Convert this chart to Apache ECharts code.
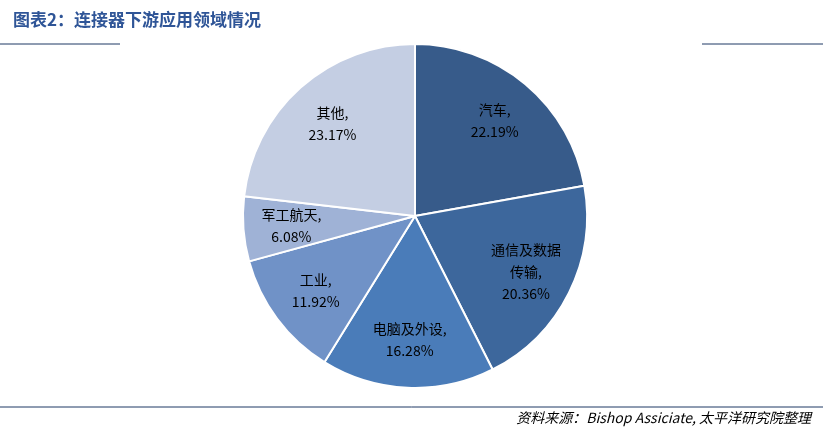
<!DOCTYPE html><html><head><meta charset="utf-8">
<script src="https://cdn.jsdelivr.net/npm/echarts@6/dist/echarts.min.js"></script>
<style>html,body{margin:0;padding:0;background:#fff}#c{width:823px;height:435px}</style></head>
<body><div id="c"></div><script>
const categories=['汽车','通信及数据\n传输','电脑及外设','工业','军工航天','其他'];
const values=[22.19,20.36,16.28,11.92,6.08,23.17];
const colors=['#375B8A','#3D679C','#4A7CB9','#7092C7','#9FB2D6','#C4CEE3'];
const chart=echarts.init(document.getElementById('c'));
chart.setOption({
 animation:false,
 title:{text:'图表2：连接器下游应用领域情况',left:8,top:6,textStyle:{color:'#2F5597',fontSize:17,fontWeight:'bold',fontFamily:'Noto Sans CJK SC'}},
 graphic:[
  {type:'line',shape:{x1:0,y1:44,x2:120,y2:44},style:{stroke:'#1F3864',lineWidth:1}},
  {type:'line',shape:{x1:702,y1:44,x2:823,y2:44},style:{stroke:'#1F3864',lineWidth:1}},
  {type:'line',shape:{x1:0,y1:407,x2:823,y2:407},style:{stroke:'#1F3864',lineWidth:1}},
  {type:'text',right:12,top:411,style:{text:'资料来源：Bishop Assiciate, 太平洋研究院整理',font:'italic 14px "Noto Sans CJK SC"',fill:'#000'}}
 ],
 series:[{type:'pie',center:[415,216],radius:172,startAngle:90,clockwise:true,
  itemStyle:{borderColor:'#fff',borderWidth:2},label:{show:false},
  data:categories.map((c,i)=>({name:c,value:values[i],itemStyle:{color:colors[i]}}))},
 {type:'pie',center:[415,216],radius:[70,172],startAngle:90,clockwise:true,silent:true,z:5,
  itemStyle:{color:'rgba(0,0,0,0)',borderWidth:0},
  label:{position:'inner',formatter:p=>p.name+',\n'+p.value.toFixed(2)+'%',color:'#000',fontSize:14,lineHeight:22,fontFamily:'Noto Sans CJK SC'},
  data:categories.map((c,i)=>({name:c,value:values[i]}))}]
});
</script></body></html>
